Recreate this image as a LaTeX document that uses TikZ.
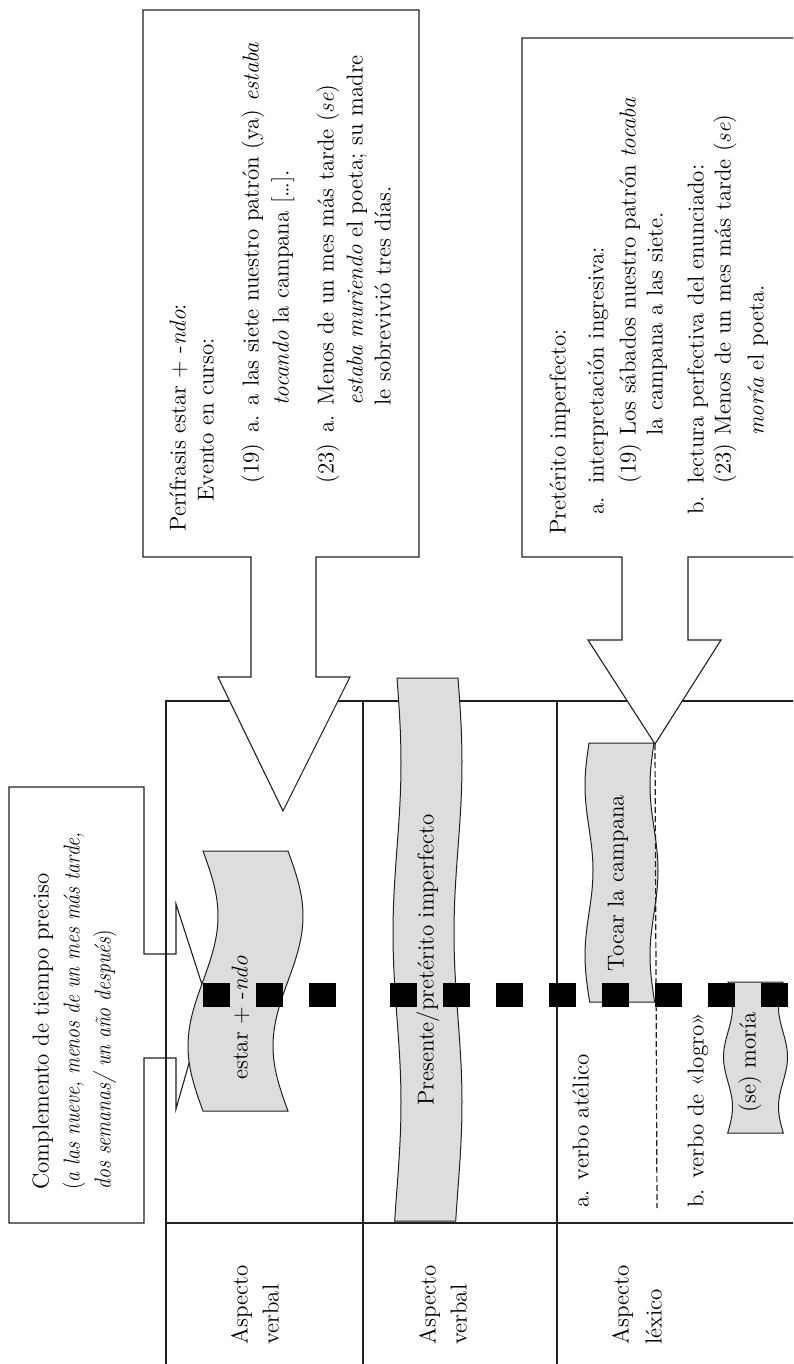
\documentclass[tikz,border=0pt]{standalone}
\usepackage{graphicx}
\usepackage{tikz}
\definecolor{bandgray}{RGB}{220,221,223}
\definecolor{ink}{RGB}{35,31,32}
\newcommand{\narrowit}[1]{\scalebox{0.86}[1]{#1}}
\begin{document}
\begin{tikzpicture}[x=0.5pt,y=-0.5pt,
  txt/.style={font=\fontsize{11.5}{14}\selectfont, inner sep=0pt, text height=8pt, text depth=2.5pt, rotate=90, anchor=west},
  btxt/.style={txt},
  ctxt/.style={txt, anchor=center},
  boxline/.style={draw=ink, line width=0.55pt, fill=white, line join=miter},
  gridline/.style={draw=ink, line width=0.9pt},
  band/.style={draw=ink, line width=0.5pt, fill=bandgray},
  squares/.style={draw=black, line width=12pt, dash pattern=on 13.5pt off 13pt},
  thindash/.style={draw=ink, line width=0.6pt, dash pattern=on 3pt off 1.5pt}
]
\useasboundingbox (0,0) rectangle (793,1364);
\clip (0,0) rectangle (793,1364);

% callout box with pointer
\path[boxline] (9,787) -- (144,787) -- (144,954) -- (176,954) -- (176,904) -- (207,1000)
  -- (176,1109) -- (176,1058) -- (144,1058) -- (144,1223) -- (9,1223) -- cycle;

% grid
\draw[gridline] (166,1364) -- (166,701) -- (800,701);
\draw[gridline] (363,701) -- (363,1364);
\draw[gridline] (557,701) -- (557,1364);
\draw[gridline] (166,1223) -- (800,1223);

% block arrows
\path[boxline] (143,10) -- (419,10) -- (419,557) -- (316,557) -- (316,677) -- (350,677)
  -- (283,811) -- (218,677) -- (251,677) -- (251,557) -- (143,557) -- cycle;
\path[boxline] (800,38) -- (522,38) -- (522,557) -- (622,557) -- (622,640) -- (588,640)
  -- (655,744) -- (721,640) -- (688,640) -- (688,557) -- (800,557);
\coordinate (tip2) at (655,744);
\coordinate (dashend) at (657,1208);

% gray bands
\filldraw[band] plot[domain=0:260, samples=60] ({203+15*sin((\x/260)*360)},{851+\x})
  -- plot[domain=0:260, samples=60] ({288+15*sin(((260-\x)/260)*360)},{1111-\x}) -- cycle;
\filldraw[band] plot[domain=0:543, samples=60] ({397+4*sin((\x/340)*360)},{678+\x})
  -- plot[domain=0:543, samples=60] ({458+4*sin(((543-\x)/340)*360)},{1221-\x}) -- cycle;
\filldraw[band] plot[domain=0:259, samples=60] ({589-4*sin((\x/170)*360)},{743+\x})
  -- plot[domain=0:259, samples=60] ({654-4*sin(((259-\x)/170)*360)},{1002-\x}) -- cycle;
\filldraw[band] plot[domain=0:151, samples=50] ({728+4.5*sin((\x/100)*360)},{982+\x})
  -- plot[domain=0:151, samples=50] ({783-4.5*sin(((151-\x)/100)*360)},{1133-\x}) -- cycle;

% dashed division in lexical aspect column
\draw[thindash] (tip2) -- (dashend);

% heavy square dashes
\draw[squares] (203,995) -- (338,995);
\draw[squares] (390,995) -- (790,995);

% box 1 text
\node[btxt] (p1) at (180,532) {Perífrasis estar + -\textit{ndo}:};
\node[btxt] (p2) at (208,502) {Evento en curso:};
\node[btxt] (p3n) at (253,484) {(19)};
\node[btxt] (p3a) at (253,433) {a.};
\node[btxt] (p3) at (253,406) {a las siete nuestro patrón (ya) \textit{estaba}};
\node[btxt] (p4) at (283,406) {\textit{tocando} la campana […].};
\node[btxt] (p5n) at (328,484) {(23)};
\node[btxt] (p5a) at (328,433) {a.};
\node[btxt] (p5) at (328,406) {Menos de un mes más tarde (\textit{se})};
\node[btxt] (p6) at (357,406) {\textit{estaba muriendo} el poeta; su madre};
\node[btxt] (p7) at (385,406) {le sobrevivió tres días.};

% box 2 text
\node[btxt] (q1) at (560,535) {Pretérito imperfecto:};
\node[btxt] (q2a) at (598,515) {a.};
\node[btxt] (q2) at (598,484) {interpretación ingresiva:};
\node[btxt] (q3n) at (630,484) {(19)};
\node[btxt] (q3) at (630,436) {Los sábados nuestro patrón \textit{tocaba}};
\node[btxt] (q4) at (657,436) {la campana a las siete.};
\node[btxt] (q5a) at (698,515) {b.};
\node[btxt] (q5) at (698,484) {lectura perfectiva del enunciado:};
\node[btxt] (q6n) at (725,484) {(23)};
\node[btxt] (q6) at (725,436) {Menos de un mes más tarde (\textit{se})};
\node[btxt] (q7) at (758,436) {\textit{moría} el poeta.};

% callout text
\node[txt] (c1) at (43,1190) {Complemento de tiempo preciso};
\node[txt] (c2) at (74,1190) {\narrowit{(\textit{a las nueve, menos de un mes más tarde,}}};
\node[txt] (c3) at (105,1190) {\narrowit{\textit{dos semanas/ un año después})}};

% band labels
\node[ctxt] (estar) at (242,1018) {estar + -\textit{ndo}};
\node[ctxt] (pres) at (428,960) {Presente/pretérito imperfecto};
\node[ctxt] (tocar) at (618,883) {Tocar la campana};
\node[ctxt] (moria) at (750,1062) {(se) moría};

% lexical labels
\node[txt] (la) at (583,1208) {a. verbo atélico};
\node[txt] (lb) at (698,1208) {b. verbo de «logro»};

% header labels
\node[txt] (h1a) at (242,1345) {Aspecto};
\node[txt] (h1b) at (273,1345) {verbal};
\node[txt] (h2a) at (430,1345) {Aspecto};
\node[txt] (h2b) at (461,1345) {verbal};
\node[txt] (h3a) at (623,1345) {Aspecto};
\node[txt] (h3b) at (656,1345) {léxico};
\end{tikzpicture}
\end{document}
